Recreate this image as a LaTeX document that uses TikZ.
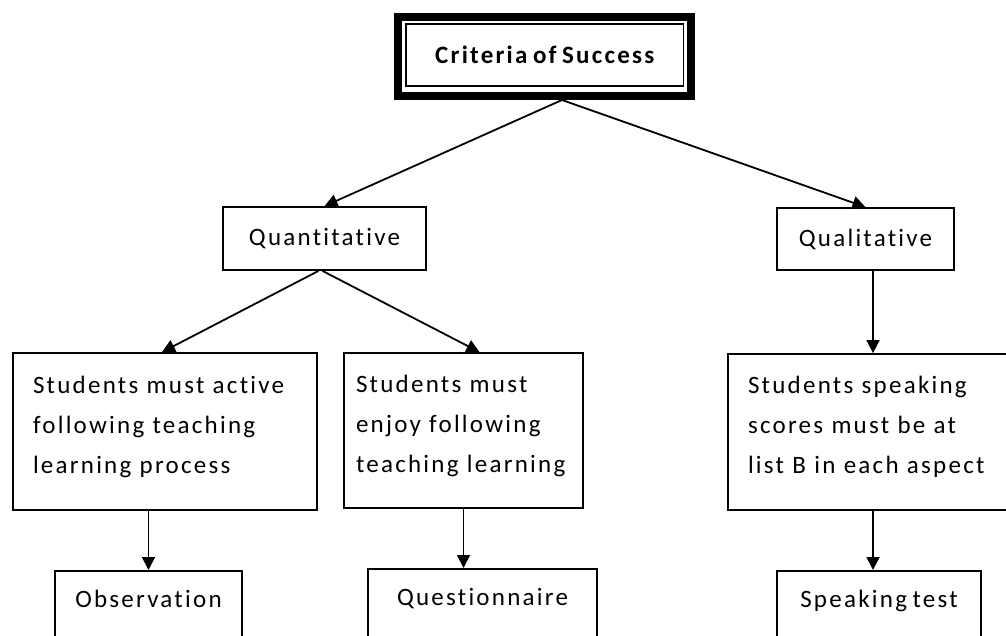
\documentclass[tikz,border=0pt]{standalone}
\usepackage{fontspec}
\setmainfont[LetterSpace=9,WordSpace=0.7,Ligatures={NoCommon}]{Carlito}
\usetikzlibrary{arrows.meta}
\begin{document}
\begin{tikzpicture}[x=1pt,y=-1pt,
    box/.style={draw, line width=1.8pt, inner sep=0pt, font=\fontsize{25}{40}\selectfont},
    textbox/.style={box, align=left, inner xsep=20pt},
    endbox/.style={box, anchor=north, text height=19pt, text depth=100pt, inner ysep=18pt},
    link/.style={-{Triangle[length=13pt,width=13pt]}, line width=1.8pt}]
    \useasboundingbox (0,0) rectangle (1006,635);
    \clip (0,0) rectangle (1006,635);
    \node [box, minimum width=277.5pt, minimum height=62pt, font=\fontsize{25}{30}\selectfont\bfseries] (crit) at (544.75,55) {Criteria of Success};
    \draw [line width=8pt] (397.5,17) rectangle (691,96);
    \coordinate (apex) at (562,100);
    \node [box, minimum width=203pt, minimum height=63pt] (quant) at (324.5,238.5) {Quantitative};
    \node [box, minimum width=177pt, minimum height=62pt] (qual) at (865.5,239) {Qualitative};
    \node [textbox, text width=264pt, minimum height=157pt] (active) at (165,431.5) {Students must~active\\following~teaching\\learning~process\\[-26pt]\mbox{}};
    \node [textbox, inner xsep=12pt, text width=215pt, minimum height=155pt] (enjoy) at (463.5,430.5) {Students~must\\enjoy~following\\teaching~learning\\[-26pt]\mbox{}};
    \node [textbox, text width=250pt, minimum height=156pt] (scores) at (873,432) {Students~speaking\\scores must~be~at\\list~B in~each~aspect\\[-26pt]\mbox{}};
    \node [endbox, minimum width=187pt] (obs) at (148.5,570) {Observation};
    \node [endbox, minimum width=229pt] (quest) at (482.5,568) {Questionnaire};
    \node [endbox, minimum width=204pt] (speak) at (879,570) {Speaking test};
    \draw [link] (apex) -- (quant.north);
    \draw [link] (apex) -- (qual.north);
    \draw [link] ([xshift=-6pt]quant.south) -- ([xshift=-3pt]active.north);
    \draw [link] ([xshift=-2pt]quant.south) -- ([xshift=16pt]enjoy.north);
    \draw [link] (scores.north |- qual.south) -- (scores.north);
    \draw [link] (obs.north |- active.south) -- (obs.north);
    \draw [link] (enjoy.south) -- (enjoy.south |- quest.north);
    \draw [link] (scores.south) -- (scores.south |- speak.north);
\end{tikzpicture}
\end{document}
